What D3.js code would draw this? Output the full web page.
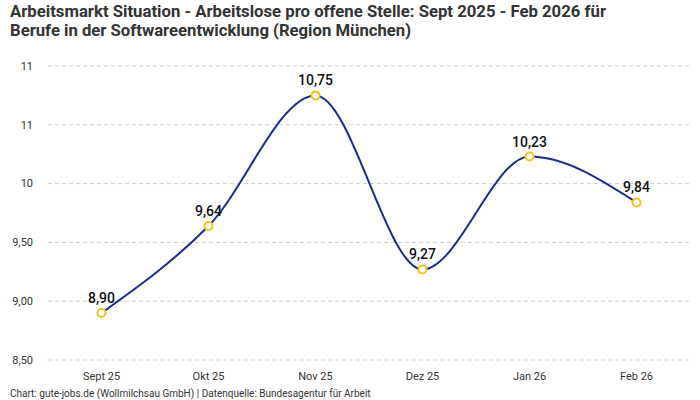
<!DOCTYPE html>
<html><head><meta charset="utf-8">
<script src="https://cdn.jsdelivr.net/npm/d3@7"></script>
<style>body{margin:0;background:#fff;} svg{display:block;}</style>
</head><body>
<svg id="c" width="700" height="400"></svg>
<script>
const categories = ["Sept 25","Okt 25","Nov 25","Dez 25","Jan 26","Feb 26"];
const values = [8.90, 9.64, 10.75, 9.27, 10.23, 9.84];
const yTicks = [8.5, 9, 9.5, 10, 10.5, 11];
const yTickLabels = ["8,50","9,00","9,50","10","11","11"];
const titleLines = ["Arbeitsmarkt Situation - Arbeitslose pro offene Stelle: Sept 2025 - Feb 2026 für","Berufe in der Softwareentwicklung (Region München)"];
const titleWidths = [596, 401];
const footer = "Chart: gute-jobs.de (Wollmilchsau GmbH) | Datenquelle: Bundesagentur für Arbeit";

const svg = d3.select("#c");
const x = d3.scaleBand().domain(categories).range([48, 690]);
const y = d3.scaleLinear().domain([8.5, 11]).range([360, 66]);

svg.selectAll("text.title").data(titleLines).join("text")
  .attr("x", 10).attr("y", (d,i)=>17+i*18.5)
  .attr("font-family", "Roboto, sans-serif").attr("font-weight", "bold").attr("font-size", 17)
  .attr("textLength", (d,i)=>titleWidths[i]).attr("lengthAdjust", "spacingAndGlyphs")
  .attr("fill", "#333").text(d=>d);

const grid = svg.append("g");
grid.selectAll("line").data(yTicks).join("line")
  .attr("x1", 48).attr("x2", 690).attr("y1", d=>y(d)).attr("y2", d=>y(d))
  .attr("stroke", "#cfcfcf").attr("stroke-dasharray", "4,3").attr("stroke-width", 1);
grid.selectAll("text").data(yTicks).join("text")
  .attr("x", 33).attr("y", d=>y(d)).attr("dy", "0.35em").attr("text-anchor", "end")
  .attr("font-family", "Roboto, sans-serif").attr("font-size", 11).attr("fill", "#333")
  .text((d,i)=>yTickLabels[i]);

svg.append("g").selectAll("text").data(categories).join("text")
  .attr("x", d=>x(d)+x.bandwidth()/2).attr("y", 380).attr("text-anchor", "middle")
  .attr("font-family", "Roboto, sans-serif").attr("font-size", 11).attr("fill", "#333").text(d=>d);

const line = d3.line().x((d,i)=>x(categories[i])+x.bandwidth()/2).y(d=>y(d)).curve(d3.curveMonotoneX);
svg.append("path").datum(values).attr("d", line).attr("fill", "none")
  .attr("stroke", "#1a2a8f").attr("stroke-width", 2);

svg.append("g").selectAll("circle").data(values).join("circle")
  .attr("cx", (d,i)=>x(categories[i])+x.bandwidth()/2).attr("cy", d=>y(d)).attr("r", 4)
  .attr("fill", "#fff").attr("stroke", "#f5c218").attr("stroke-width", 2);

svg.append("g").selectAll("text").data(values).join("text")
  .attr("x", (d,i)=>x(categories[i])+x.bandwidth()/2).attr("y", d=>y(d)-10).attr("text-anchor", "middle")
  .attr("font-family", "Roboto, sans-serif").attr("font-weight", 500).attr("font-size", 14).attr("fill", "#111")
  .text(d=>d3.format(".2f")(d).replace(".", ","));

svg.append("text").attr("x", 10).attr("y", 397)
  .attr("font-family", "Roboto, sans-serif").attr("font-size", 10).attr("fill", "#333").text(footer);
</script>
</body></html>
